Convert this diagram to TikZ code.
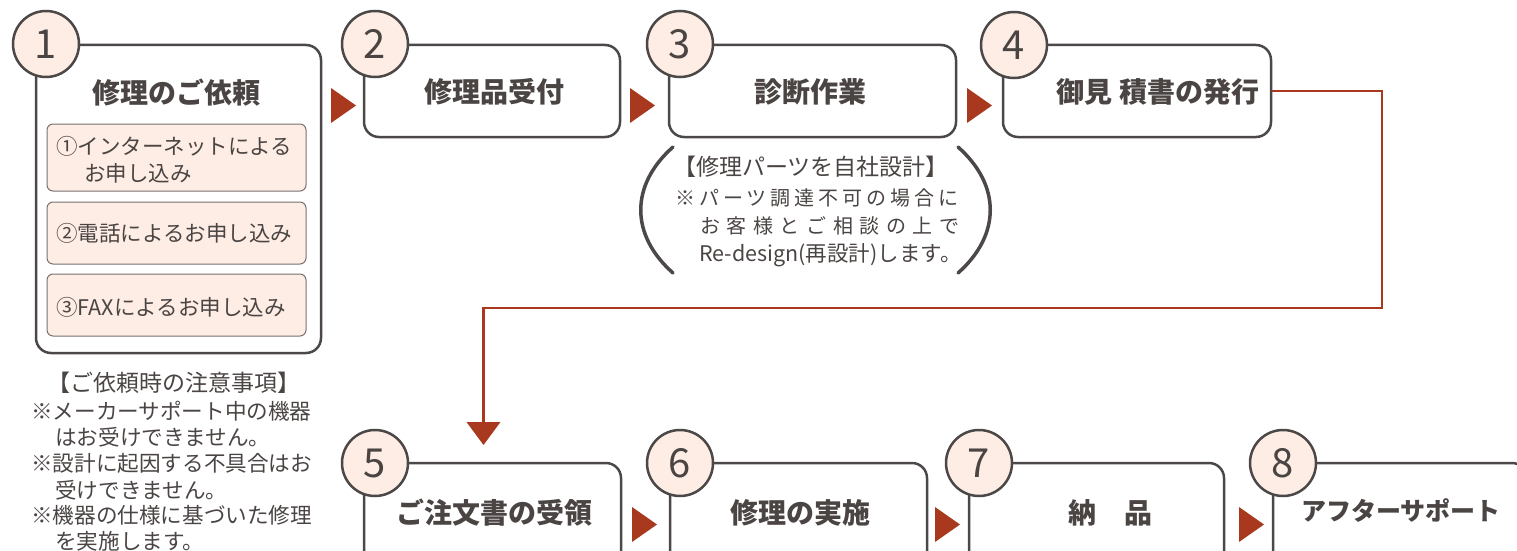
\documentclass[tikz,border=0pt]{standalone}
\usepackage{fontspec}
\setmainfont{Noto Sans CJK JP}
\definecolor{txt}{HTML}{4A4443}
\definecolor{edge}{HTML}{4D4848}
\definecolor{peach}{HTML}{FDEDE4}
\definecolor{redc}{HTML}{A8391F}
\definecolor{subedge}{HTML}{7A7070}
\newcommand\rtri[2]{\fill[redc] (#1,#2) -- ++(25,17.5) -- ++(-25,17.5) -- cycle;}
\begin{document}
\begin{tikzpicture}[x=1pt,y=-1pt,
  box/.style={draw=edge,line width=2.5pt,rounded corners=15pt,inner sep=0pt},
  sub/.style={draw=subedge,line width=1pt,fill=peach,rounded corners=6pt,inner sep=0pt,minimum width=259pt},
  num/.style={circle,draw=edge,line width=2.5pt,fill=peach,minimum size=66pt,inner sep=0pt,font=\fontsize{40}{40}\selectfont,text=txt},
  ttl/.style={anchor=base,font=\fontsize{28}{30}\selectfont\bfseries,text=txt,inner sep=0pt},
  subt/.style={anchor=base west,font=\fontsize{21.5}{24}\selectfont,text=txt,inner sep=0pt},
  note/.style={anchor=base west,font=\fontsize{21.6}{24}\selectfont,text=txt,inner sep=0pt},
  redline/.style={draw=redc,line width=2.5pt},
  brk/.style={draw=edge,line width=3.5pt,line cap=round}]
\useasboundingbox (0,0) rectangle (1517,551);
\clip (0,0) rectangle (1517,551);
% boxes
\node[box,minimum width=285pt,minimum height=308pt] (B1) at (178.5,199) {};
\node[box,minimum width=256pt,minimum height=92pt] (B2) at (492,91) {};
\node[box,minimum width=287pt,minimum height=92pt] (B3) at (812.5,91) {};
\node[box,minimum width=268pt,minimum height=92pt] (B4) at (1137,91) {};
\node[box,minimum width=257pt,minimum height=137pt] (B5) at (492.5,531.5) {};
\node[box,minimum width=257pt,minimum height=137pt] (B6) at (798.5,531.5) {};
\node[box,minimum width=255pt,minimum height=137pt] (B7) at (1096.5,531.5) {};
\node[box,minimum width=254pt,minimum height=137pt] (B8) at (1400,531.5) {};
% number circles
\node[num] (C1) at (46,44) {1};
\node[num] (C2) at (375,44) {2};
\node[num] (C3) at (680,44) {3};
\node[num] (C4) at (1014,45) {4};
\node[num] (C5) at (375,463) {5};
\node[num] (C6) at (680,463) {6};
\node[num] (C7) at (979,463) {7};
\node[num] (C8) at (1283,463) {8};
% titles
\node[ttl] (T1) at (176,103.5) {修理のご依頼};
\node[ttl] (T2) at (494,102.5) {修理品受付};
\node[ttl] (T3) at (810,102.5) {診断作業};
\node[ttl] (T4) at (1158,102.5) {御見 積書の発行};
\node[ttl] (T5) at (494,523) {ご注文書の受領};
\node[ttl] (T6) at (800,523) {修理の実施};
\node[ttl] (T7) at (1110,523) {納　品};
\node[ttl,font=\fontsize{25}{27}\selectfont\bfseries] (T8) at (1401,520) {アフターサポート};
% sub boxes
\node[sub,minimum height=67pt] (S1) at (176.5,157.5) {};
\node[sub,minimum height=62pt] (S2) at (176.5,233) {};
\node[sub,minimum height=62pt] (S3) at (176.5,305) {};
\node[subt] (s1a) at (56,154) {①インターネットによる};
\node[subt] (s1b) at (84,181) {お申し込み};
\node[subt] (s2a) at (56,241) {②電話によるお申し込み};
\node[subt] (s3a) at (56,315) {③FAXによるお申し込み};
% notes under box 1
\node[anchor=base,font=\fontsize{23}{25}\selectfont,text=txt,inner sep=0pt] (n0) at (174,391) {【ご依頼時の注意事項】};
\node[note] (n1) at (31,419) {※メーカーサポート中の機器};
\node[note] (n2) at (55,445) {はお受けできません。};
\node[note] (n3) at (31,471) {※設計に起因する不具合はお};
\node[note] (n4) at (55,498) {受けできません。};
\node[note] (n5) at (31,523) {※機器の仕様に基づいた修理};
\node[note] (n6) at (55,549) {を実施します。};
% notes under box 3
\node[anchor=base west,font=\fontsize{23}{25}\selectfont,text=txt,inner sep=0pt] (m1) at (673,175) {【修理パーツを自社設計】};
\node[anchor=base west,font=\fontsize{20}{22}\selectfont\addfontfeature{LetterSpace=20},text=txt,inner sep=0pt] (m2) at (675,205.5) {※パーツ調達不可の場合に};
\node[anchor=base west,font=\fontsize{20}{22}\selectfont\addfontfeature{LetterSpace=33},text=txt,inner sep=0pt] (m3) at (700,233.5) {お客様とご相談の上で};
\node[anchor=base west,font=\fontsize{21.5}{23}\selectfont,text=txt,inner sep=0pt] (m4) at (699,261) {Re-design(再設計)します。};
\draw[brk] (673,147) .. controls (630,185) and (630,235) .. (673,273);
\draw[brk] (958,147) .. controls (1001,185) and (1001,235) .. (958,273);
% red arrow triangles
\rtri{331}{88}
\rtri{630}{88}
\rtri{967}{88}
\rtri{632}{507}
\rtri{935}{507}
\rtri{1239}{507}
% red connector from 4 to 5
\coordinate (r1) at (1382,308);
\coordinate (r2) at (483.5,308);
\coordinate (r3) at (483.5,423);
\draw[redline] (B4.east) -| (r1) -- (r2) -- (r3);
\fill[redc] (466.5,422) -- (500.5,422) -- (483.5,445) -- cycle;
\end{tikzpicture}
\end{document}
